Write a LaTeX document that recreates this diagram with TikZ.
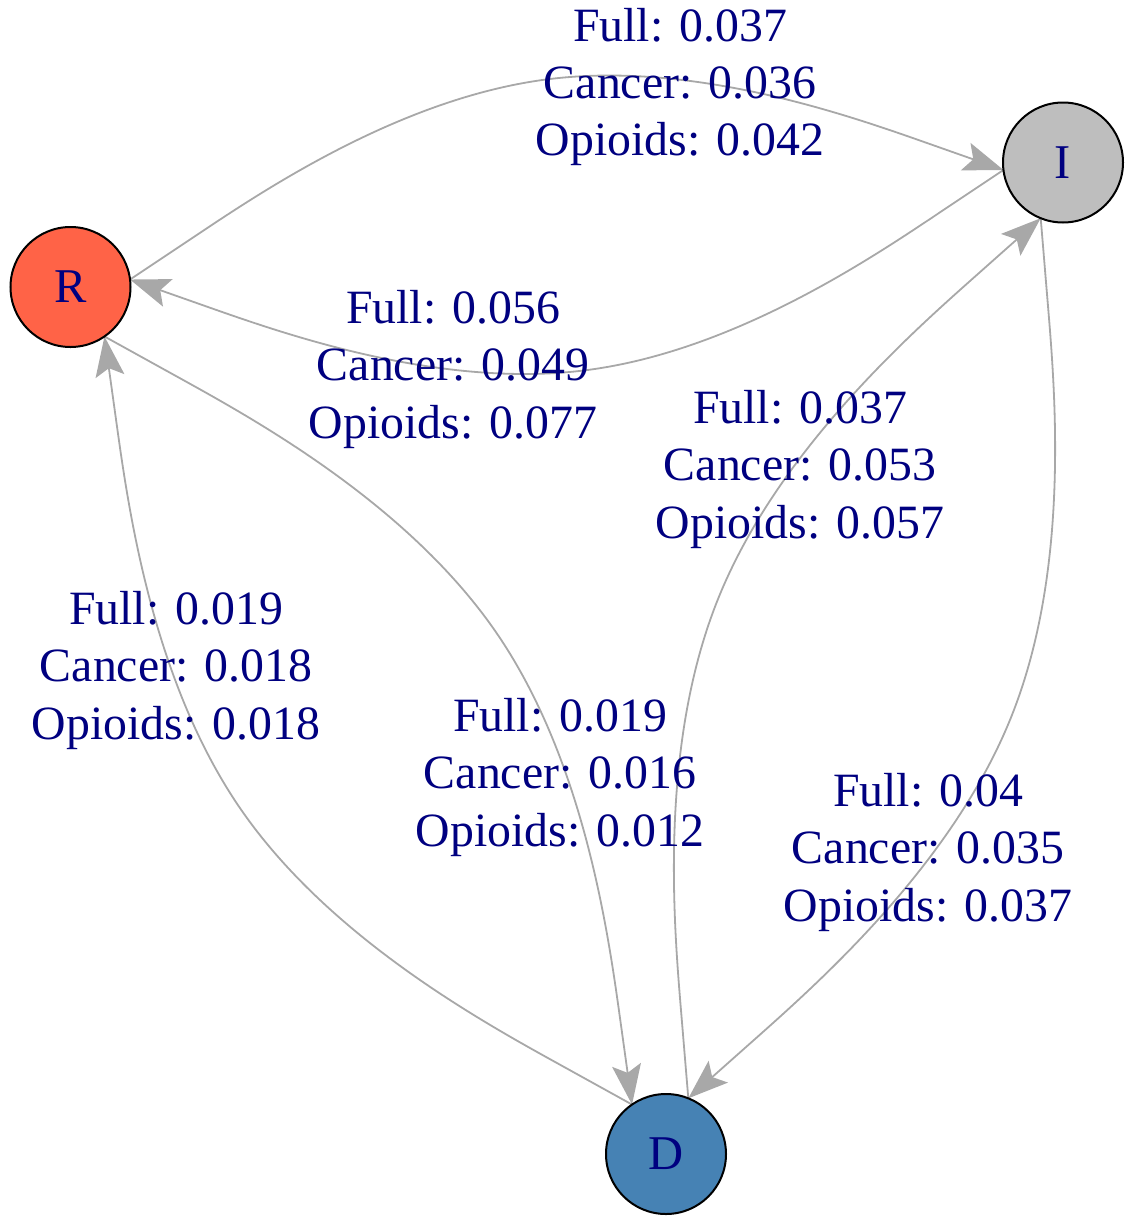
\documentclass[tikz,border=0pt]{standalone}
\usepackage{fontspec}
\setmainfont{Liberation Serif}
\usetikzlibrary{calc,arrows.meta,backgrounds}
\definecolor{tomatoc}{RGB}{255,99,71}
\definecolor{grayc}{RGB}{190,190,190}
\definecolor{steelc}{RGB}{70,130,180}
\definecolor{navyc}{RGB}{0,0,128}
\definecolor{edgec}{RGB}{168,168,168}
% curved edge: uniform cubic B-spline through start, control, end (igraph-like)
\newcommand\drawcurvededge[2]{%
  \coordinate (m) at ($(#1)!0.5!(#2)$);
  \coordinate (c) at ($(m)!0.5!90:(#2)$);
  \coordinate (k) at ($(c)!1/3!(m)$);
  \draw[edgeline] (#1) -- ($(#1)!1/6!(c)$)
    .. controls ($(#1)!1/3!(c)$) and ($(#1)!2/3!(c)$) .. (k)
    .. controls ($(#2)!2/3!(c)$) and ($(#2)!1/3!(c)$) .. ($(#2)!1/6!(c)$)
    -- (#2);
}
\begin{document}
\begin{tikzpicture}[x=1pt,y=-1pt,
  vertex/.style={circle, draw=black, line width=2pt, minimum size=120pt,
    inner sep=0pt, text=navyc, font=\fontsize{48.5}{57.5}\selectfont},
  lbl/.style={align=center, text=navyc, inner sep=0pt,
    font=\fontsize{47.8}{57.5}\selectfont},
  edgeline/.style={draw=edgec, line width=1.8pt,
    -{Stealth[length=40pt,width=29pt,inset=8pt]}}]
\useasboundingbox (0,0) rectangle (1130,1216);

\node[vertex, fill=tomatoc] (R) at (70.5,287) {R};
\node[vertex, fill=grayc]   (I) at (1063,162.5) {I};
\node[vertex, fill=steelc]  (D) at (666,1154) {D};

\coordinate (rI) at ($(R.center)!60pt!(I.center)$);
\coordinate (iR) at ($(I.center)!60pt!(R.center)$);
\coordinate (rD) at ($(R.center)!60pt!(D.center)$);
\coordinate (dR) at ($(D.center)!60pt!(R.center)$);
\coordinate (iD) at ($(I.center)!60pt!(D.center)$);
\coordinate (dI) at ($(D.center)!60pt!(I.center)$);

\begin{scope}[on background layer]
\drawcurvededge{rI}{iR}
\drawcurvededge{iR}{rI}
\drawcurvededge{rD}{dR}
\drawcurvededge{dR}{rD}
\drawcurvededge{iD}{dI}
\drawcurvededge{dI}{iD}
\end{scope}

\node[lbl] (lRI) at (680,87)  {Full: 0.037\\Cancer: 0.036\\Opioids: 0.042};
\node[lbl] (lIR) at (453,369) {Full: 0.056\\Cancer: 0.049\\Opioids: 0.077};
\node[lbl] (lDI) at (800,469) {Full: 0.037\\Cancer: 0.053\\Opioids: 0.057};
\node[lbl] (lDR) at (176,670) {Full: 0.019\\Cancer: 0.018\\Opioids: 0.018};
\node[lbl] (lRD) at (560,777) {Full: 0.019\\Cancer: 0.016\\Opioids: 0.012};
\node[lbl] (lID) at (928,852) {Full: 0.04\\Cancer: 0.035\\Opioids: 0.037};
\end{tikzpicture}
\end{document}
